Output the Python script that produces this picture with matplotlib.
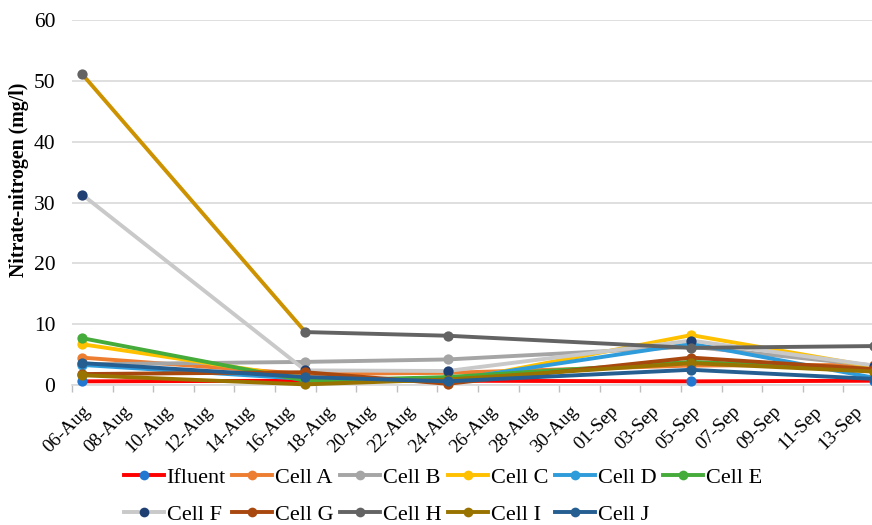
import matplotlib
matplotlib.use("Agg")
import matplotlib.pyplot as plt
import matplotlib.transforms as mtransforms
from matplotlib.lines import Line2D

# ---- data ----
sample_days = [0, 11, 18, 30, 39]          # days after 06-Aug (06-Aug, 17-Aug, 24-Aug, 05-Sep, 14-Sep)
tick_labels = ["06-Aug", "08-Aug", "10-Aug", "12-Aug", "14-Aug", "16-Aug", "18-Aug",
               "20-Aug", "22-Aug", "24-Aug", "26-Aug", "28-Aug", "30-Aug", "01-Sep",
               "03-Sep", "05-Sep", "07-Sep", "09-Sep", "11-Sep", "13-Sep"]
series_names = ["Ifluent", "Cell A", "Cell B", "Cell C", "Cell D", "Cell E",
                "Cell F", "Cell G", "Cell H", "Cell I", "Cell J"]
ifluent = [0.6, 0.7, 0.7, 0.6, 0.7]
cell_a = [4.5, 1.8, 2.0, 3.2, 3.3]
cell_b = [3.4, 3.8, 4.2, 6.3, 3.2]
cell_c = [6.7, 1.2, 0.5, 8.2, 3.0]
cell_d = [3.3, 1.0, 0.8, 6.8, 1.2]
cell_e = [7.7, 0.7, 1.3, 3.8, 2.6]
cell_f = [31.3, 2.4, 2.3, 7.3, 3.2]
cell_g = [1.8, 2.1, 0.2, 4.5, 2.6]
cell_h = [51.1, 8.7, 8.1, 6.1, 6.4]
cell_i = [1.6, 0.1, 0.9, 3.6, 2.2]
cell_j = [3.6, 1.3, 0.6, 2.5, 1.0]
values = [ifluent, cell_a, cell_b, cell_c, cell_d, cell_e,
          cell_f, cell_g, cell_h, cell_i, cell_j]

line_colors = ["#FF0000", "#ED7D31", "#A5A5A5", "#FFC000", "#2E9BDB", "#45AB3A",
               "#C9C9C9", "#A8480E", "#636363", "#997300", "#255E91"]
marker_colors = ["#2277D0", "#ED7D31", "#A5A5A5", "#FFC000", "#2E9BDB", "#45AB3A",
                 "#1F3F73", "#A8480E", "#636363", "#997300", "#255E91"]
h_first_segment_color = "#CC9200"

plt.rcParams['font.family'] = ['Liberation Serif', 'DejaVu Serif']

fig = plt.figure(figsize=(8.72, 5.25), dpi=100)
ax = fig.add_axes([72/872, 1 - 385/525, 812/872, 365/525])

lw = 2.8
ms = 7.4
for name, vals, lc, mc in zip(series_names, values, line_colors, marker_colors):
    if name == "Cell H":
        ax.plot(sample_days[:2], vals[:2], color=h_first_segment_color, lw=lw,
                solid_capstyle='round', zorder=3, clip_on=False)
        ax.plot(sample_days[1:], vals[1:], color=lc, lw=lw,
                solid_capstyle='round', zorder=3, clip_on=False)
    else:
        ax.plot(sample_days, vals, color=lc, lw=lw, solid_capstyle='round',
                zorder=3, clip_on=False)
    ax.plot(sample_days, vals, ls='none', marker='o', ms=ms, color=mc,
            markeredgewidth=0, zorder=3, clip_on=False)

ax.set_ylim(0, 60)
ax.set_yticks(range(0, 61, 10))
ax.set_xlim(-0.5, 39.5)

# tick marks at slot boundaries, labels at slot centres
ax.set_xticks([-0.5 + 2 * k for k in range(21)])
ax.set_xticklabels([])
ax.tick_params(axis='x', which='major', length=5, width=1, color="#BFBFBF", direction='out')
ax.set_xticks([2 * k for k in range(len(tick_labels))], minor=True)
ax.set_xticklabels(tick_labels, minor=True, rotation=45, ha='right', va='center',
                   rotation_mode='anchor', fontsize=13.8)
ax.tick_params(axis='x', which='minor', length=0, pad=17)
offset = mtransforms.ScaledTranslation(6/100, 0, fig.dpi_scale_trans)
for lab in ax.get_xticklabels(minor=True):
    lab.set_transform(lab.get_transform() + offset)

ax.tick_params(axis='y', length=0, pad=12, labelsize=15.5)
ax.grid(axis='y', color="#D9D9D9", lw=1.2, zorder=0)
ax.set_axisbelow(True)
for s in ['top', 'right', 'left']:
    ax.spines[s].set_visible(False)
ax.spines['bottom'].set_color("#D9D9D9")
ax.spines['bottom'].set_linewidth(1.2)

fig.text(19/872, 1 - 180/525, "Nitrate-nitrogen (mg/l)", rotation=90, fontsize=14.3,
         fontweight='bold', ha='center', va='center')

# legend in row-major order (2 rows x 6 columns)
handles = [Line2D([], [], color=lc, lw=lw, marker='o', ms=7, markerfacecolor=mc,
                  markeredgewidth=0) for lc, mc in zip(line_colors, marker_colors)]
order = [0, 6, 1, 7, 2, 8, 3, 9, 4, 10, 5]
leg = fig.legend([handles[i] for i in order], [series_names[i] for i in order],
                 ncol=6, loc='center', bbox_to_anchor=(443/872, 1 - 496/525),
                 frameon=False, fontsize=16, handlelength=1.8, handletextpad=0.12,
                 columnspacing=0.3, labelspacing=0.75)

fig.savefig("out.png", dpi=100)
